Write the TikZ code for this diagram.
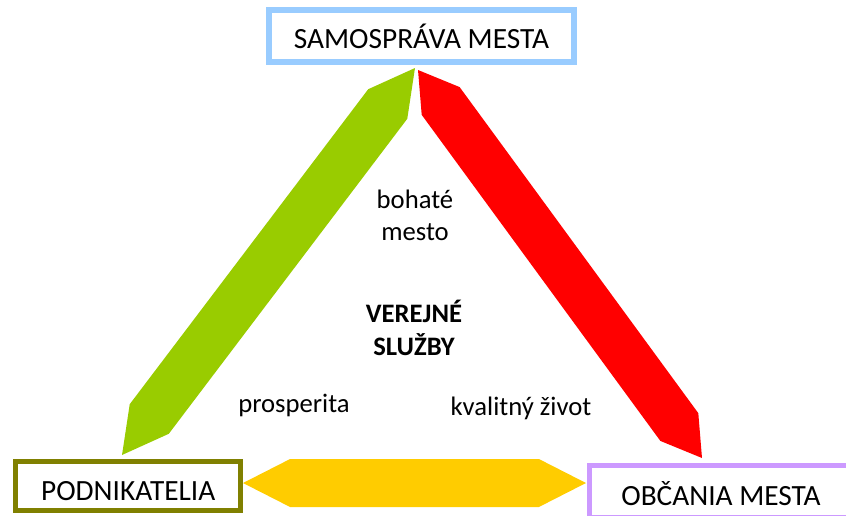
\documentclass[tikz,border=0pt]{standalone}
\usepackage{fontspec}
\setmainfont{Carlito}
\usetikzlibrary{shapes.arrows,calc}
\definecolor{grn}{HTML}{99CC00}
\definecolor{rd}{HTML}{FF0000}
\definecolor{yel}{HTML}{FFCC00}
\definecolor{sky}{HTML}{99CCFF}
\definecolor{olv}{HTML}{808000}
\definecolor{lil}{HTML}{CC99FF}

\begin{document}
\begin{tikzpicture}[x=0.75pt,y=-0.75pt,
  box/.style={draw, line width=3.75pt, inner sep=0pt, text depth=0pt, font=\fontsize{22}{26}\selectfont},
  band/.style={double arrow, double arrow head extend=0pt, inner sep=0pt},
  lbl/.style={font=\fontsize{20}{24.4}\selectfont, align=center, anchor=base}]
  \useasboundingbox (0,0) rectangle (846,515);
  \clip (0,0) rectangle (846,515);
  \node[box, draw=sky, line width=4.5pt, minimum width=228.75pt, minimum height=39pt, text height=19pt] (sam) at (421.5,36) {SAMOSPRÁVA MESTA};
  \node[box, draw=olv, minimum width=169pt, minimum height=37.1pt, text height=21.7pt] (pod) at (128.2,485.8) {PODNIKATELIA};
  \node[box, draw=lil, minimum width=198pt, minimum height=39pt, text height=21.7pt] (obc) at (721,491) {OBČANIA MESTA};
  % arrow tips
  \coordinate (gA) at (415,68);  \coordinate (gB) at (122,455);
  \coordinate (rA) at (418,70);  \coordinate (rB) at (702,458);
  \coordinate (yA) at (243,483); \coordinate (yB) at (586,483);
  \path let \p1=($(gB)-(gA)$), \n1={veclen(\x1,\y1)}, \n2={atan2(\y1,\x1)} in
    node[band, fill=grn, minimum width=36.75pt, minimum height=\n1, double arrow tip angle=57, rotate=\n2] (green) at ($(gA)!0.5!(gB)$) {};
  \path let \p1=($(rB)-(rA)$), \n1={veclen(\x1,\y1)}, \n2={atan2(\y1,\x1)} in
    node[band, fill=rd, minimum width=35.25pt, minimum height=\n1, double arrow tip angle=63, rotate=\n2] (red) at ($(rA)!0.5!(rB)$) {};
  \path let \p1=($(yB)-(yA)$), \n1={veclen(\x1,\y1)}, \n2={atan2(\y1,\x1)} in
    node[band, fill=yel, minimum width=36pt, minimum height=\n1, double arrow tip angle=54, rotate=\n2] (yellow) at ($(yA)!0.5!(yB)$) {};
  \node[lbl] (rich) at (415,240.7) {bohaté\\mesto};
  \node[lbl, font=\fontsize{20}{24.4}\selectfont\bfseries] (pub) at (414,355) {VEREJNÉ\\SLUŽBY};
  \node[lbl] (pros) at (294,412) {prosperita};
  \node[lbl] (life) at (521,415) {kvalitný život};
\end{tikzpicture}
\end{document}
